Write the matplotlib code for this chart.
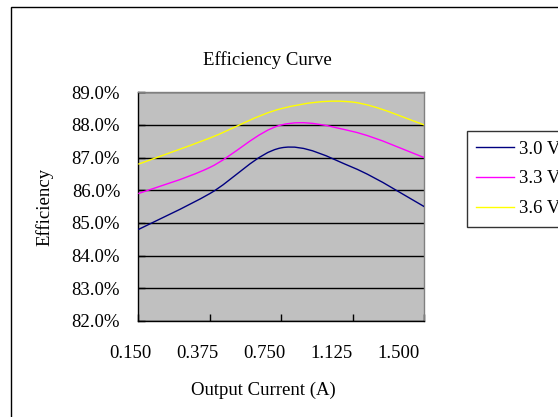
import matplotlib
matplotlib.use("Agg")
import matplotlib.pyplot as plt
from matplotlib.path import Path
from matplotlib.patches import PathPatch, Rectangle
from matplotlib.lines import Line2D
import numpy as np

plt.rcParams['font.family'] = ['Liberation Serif', 'DejaVu Serif']

# ---- data ----
currents = ["0.150", "0.375", "0.750", "1.125", "1.500"]
series_names = ["3.0 V", "3.3 V", "3.6 V"]
eff_30 = [84.8, 85.9, 87.3, 86.7, 85.5]
eff_33 = [85.9, 86.7, 88.0, 87.8, 87.0]
eff_36 = [86.8, 87.6, 88.5, 88.7, 88.0]
y_ticks = [82, 83, 84, 85, 86, 87, 88, 89]

colors = ["#000080", "#FF00FF", "#FFFF00"]
FS = 13.5

W, H = 558, 417
fig = plt.figure(figsize=(W / 100, H / 100), dpi=100)
fig.patch.set_facecolor("white")

# plot area in pixels
L, R, T, B = 138.3, 424.3, 92.3, 321.0
ax = fig.add_axes([L / W, 1 - B / H, (R - L) / W, (B - T) / H])
ax.set_facecolor("#C0C0C0")


def smooth_path(xs, ys):
    """Excel-style smoothed line: cubic Bezier segments through the points."""
    pts = np.column_stack([xs, ys]).astype(float)
    n = len(pts)
    verts = [pts[0]]
    codes = [Path.MOVETO]
    for i in range(n - 1):
        p_prev = pts[i - 1] if i > 0 else pts[i]
        p0 = pts[i]
        p1 = pts[i + 1]
        p_next = pts[i + 2] if i + 2 < n else pts[i + 1]
        c1 = p0 + (p1 - p_prev) / 6.0
        c2 = p1 - (p_next - p0) / 6.0
        verts += [c1, c2, p1]
        codes += [Path.CURVE4] * 3
    return Path(verts, codes)


x_idx = np.arange(len(currents))
for vals, c in zip([eff_30, eff_33, eff_36], colors):
    patch = PathPatch(smooth_path(x_idx, vals), facecolor="none",
                      edgecolor=c, lw=1.0, zorder=3)
    ax.add_patch(patch)

ax.set_xlim(0, len(currents) - 1)
ax.set_ylim(y_ticks[0], y_ticks[-1])

# gridlines
ax.set_yticks(y_ticks)
ax.yaxis.grid(True, color="black", lw=1.0)
ax.set_axisbelow(True)
ax.set_yticklabels([f"{v:.1f}%" for v in y_ticks], fontsize=FS)
ax.tick_params(axis="y", direction="in", length=5, width=1, color="black",
               pad=13.0, left=True)

ax.set_xticks(x_idx)
ax.set_xticklabels([])
ax.tick_params(axis="x", direction="in", length=5, width=1, color="black")

for side in ["top", "right"]:
    ax.spines[side].set_color("#808080")
    ax.spines[side].set_linewidth(1.0)
for side in ["left", "bottom"]:
    ax.spines[side].set_color("black")
    ax.spines[side].set_linewidth(1.0)

# x tick labels (Excel places them slightly left of the ticks)
lab_start, lab_step = 130.0, 67.1
for i, lab in enumerate(currents):
    xp = lab_start + i * lab_step
    fig.text(xp / W, 1 - 353 / H, lab, ha="center", va="center", fontsize=FS)

# titles
fig.text(267 / W, 1 - 60 / H, "Efficiency Curve", ha="center", va="center",
         fontsize=FS)
fig.text(263 / W, 1 - 390 / H, "Output Current (A)", ha="center",
         va="center", fontsize=FS)
fig.text(45 / W, 1 - 207 / H, "Efficiency", ha="center", va="center",
         rotation=90, fontsize=FS)

# outer chart border (extends past the right/bottom edges)
fig.patches.append(Rectangle((10.5 / W, -0.2), 2.0, (1 - 7.5 / H) + 0.2,
                             transform=fig.transFigure, fill=False,
                             edgecolor="black", lw=1.0))

# legend
handles = [Line2D([], [], color=c, lw=1.0) for c in colors]
leg = fig.legend(handles, series_names, loc="upper left",
                 bbox_to_anchor=(466.7 / W, 1 - 131 / H),
                 bbox_transform=fig.transFigure, fontsize=FS,
                 frameon=True, fancybox=False, shadow=False,
                 handlelength=2.0, handletextpad=0.3, labelspacing=0.68,
                 borderpad=0.5, borderaxespad=0)
leg.get_frame().set_edgecolor("black")
leg.get_frame().set_linewidth(1.0)

fig.savefig("out.png", dpi=100)
